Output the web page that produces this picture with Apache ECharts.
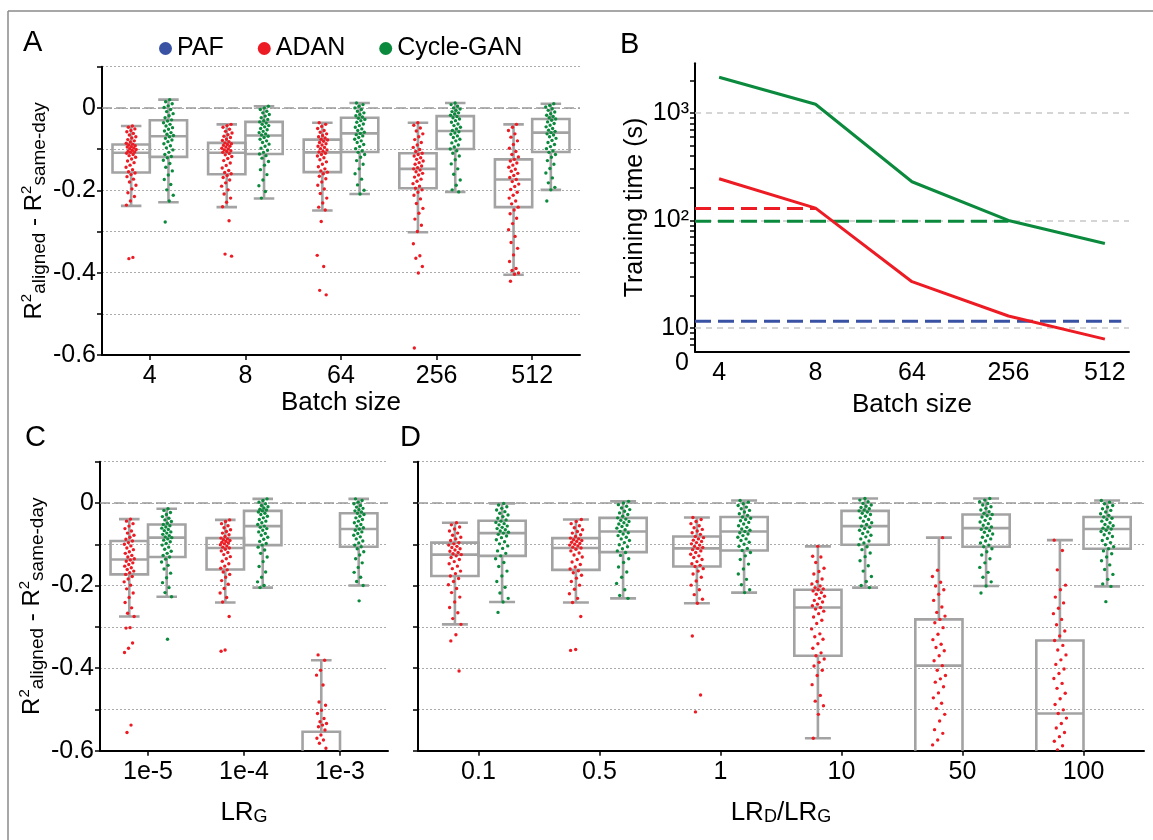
<!DOCTYPE html>
<html><head><meta charset="utf-8">
<script src="https://cdn.jsdelivr.net/npm/echarts@6/dist/echarts.min.js"></script>
<style>html,body{margin:0;padding:0;background:#fff}#c{width:1153px;height:840px}</style>
</head><body><div id="c"></div>
<script>
// ---------------- DATA ----------------
// Panel A: batch size
const batchCats = ['4', '8', '64', '256', '512'];
// box stats: [min, Q1, median, Q3, max]
const batchAdanBox = [
  [-0.238, -0.157, -0.109, -0.089, -0.044],
  [-0.241, -0.161, -0.109, -0.085, -0.040],
  [-0.249, -0.156, -0.108, -0.077, -0.036],
  [-0.302, -0.195, -0.148, -0.110, -0.036],
  [-0.405, -0.241, -0.174, -0.125, -0.040]
];
const batchCycleBox = [
  [-0.229, -0.119, -0.069, -0.030, 0.020],
  [-0.220, -0.112, -0.067, -0.034, 0.004],
  [-0.209, -0.107, -0.062, -0.024, 0.012],
  [-0.204, -0.100, -0.056, -0.020, 0.012],
  [-0.199, -0.107, -0.060, -0.027, 0.010]
];
const batchAdanDots = [
  [-.044,-.047,-.051,-.055,-.058,-.062,-.066,-.070,-.073,-.077,-.080,-.083,-.086,-.088,-.090,-.092,-.094,-.095,-.097,-.099,-.101,-.103,-.105,-.107,-.108,-.110,-.113,-.116,-.120,-.124,-.129,-.133,-.139,-.144,-.150,-.155,-.158,-.162,-.167,-.173,-.180,-.188,-.197,-.206,-.215,-.226,-.236,-.363,-.366],
  [-.040,-.043,-.047,-.052,-.057,-.061,-.065,-.069,-.072,-.076,-.079,-.082,-.085,-.087,-.089,-.091,-.093,-.095,-.098,-.100,-.102,-.104,-.106,-.108,-.111,-.114,-.118,-.123,-.128,-.134,-.140,-.146,-.152,-.157,-.160,-.164,-.169,-.175,-.182,-.190,-.199,-.209,-.219,-.229,-.240,-.274,-.355,-.360],
  [-.036,-.040,-.045,-.050,-.055,-.059,-.063,-.067,-.070,-.073,-.076,-.078,-.081,-.084,-.087,-.090,-.093,-.096,-.099,-.102,-.105,-.107,-.110,-.113,-.117,-.121,-.126,-.131,-.137,-.143,-.148,-.153,-.156,-.160,-.166,-.172,-.180,-.188,-.197,-.208,-.219,-.231,-.241,-.248,-.276,-.358,-.385,-.443,-.454],
  [-.036,-.042,-.049,-.056,-.063,-.070,-.077,-.084,-.090,-.096,-.101,-.106,-.110,-.113,-.117,-.121,-.125,-.129,-.133,-.137,-.141,-.145,-.148,-.151,-.155,-.159,-.163,-.168,-.173,-.178,-.184,-.190,-.195,-.199,-.205,-.212,-.221,-.232,-.244,-.256,-.270,-.285,-.300,-.330,-.359,-.365,-.385,-.401,-.583],
  [-.040,-.047,-.055,-.063,-.071,-.080,-.089,-.098,-.106,-.113,-.119,-.125,-.129,-.134,-.139,-.144,-.149,-.154,-.159,-.164,-.169,-.174,-.179,-.185,-.191,-.198,-.205,-.212,-.219,-.226,-.233,-.241,-.248,-.257,-.268,-.281,-.296,-.312,-.327,-.341,-.357,-.373,-.390,-.395,-.401,-.404,-.421]
];
const batchCycleDots = [
  [.020,.015,.010,.005,.001,-.004,-.009,-.014,-.019,-.024,-.029,-.032,-.036,-.040,-.044,-.048,-.052,-.056,-.060,-.064,-.067,-.070,-.074,-.078,-.082,-.087,-.092,-.097,-.102,-.108,-.113,-.118,-.121,-.127,-.135,-.144,-.153,-.163,-.174,-.186,-.199,-.212,-.226,-.277],
  [.004,.000,-.004,-.008,-.012,-.016,-.020,-.024,-.028,-.031,-.034,-.037,-.040,-.043,-.046,-.050,-.053,-.057,-.060,-.063,-.066,-.069,-.072,-.076,-.080,-.084,-.088,-.093,-.098,-.103,-.108,-.112,-.116,-.122,-.130,-.139,-.150,-.162,-.175,-.189,-.203,-.219],
  [.012,.008,.004,.000,-.004,-.008,-.012,-.016,-.019,-.022,-.025,-.028,-.031,-.035,-.039,-.043,-.047,-.051,-.055,-.059,-.062,-.065,-.068,-.072,-.076,-.080,-.084,-.089,-.094,-.099,-.104,-.108,-.113,-.120,-.128,-.137,-.148,-.160,-.173,-.187,-.200,-.209],
  [.012,.008,.004,.000,-.003,-.006,-.009,-.012,-.015,-.018,-.021,-.024,-.027,-.031,-.035,-.039,-.043,-.047,-.051,-.055,-.058,-.061,-.064,-.068,-.072,-.076,-.080,-.085,-.090,-.095,-.100,-.104,-.110,-.117,-.126,-.136,-.148,-.161,-.175,-.188,-.199,-.204],
  [.010,.006,.002,-.002,-.006,-.010,-.014,-.018,-.021,-.024,-.027,-.030,-.034,-.038,-.042,-.046,-.050,-.054,-.057,-.060,-.063,-.066,-.070,-.074,-.079,-.084,-.089,-.094,-.099,-.104,-.108,-.113,-.120,-.128,-.137,-.147,-.158,-.170,-.182,-.193,-.199,-.226]
];

// Panel B: training time (s)
const timeCats = ['4', '8', '64', '256', '512'];
const adanTime = [244, 130, 26.9, 12.9, 7.85];
const cycleTime = [2150, 1205, 229, 100, 61];
const pafBaseline = 11.5;   // dashed reference levels
const adanBaseline = 129;
const cycleBaseline = 98;
const pafBaselineEnd = 4.17;  // category position where each dashed line stops
const adanBaselineEnd = 1;
const cycleBaselineEnd = 3;
const timeLabelValues = [6, 10, 100, 1000];
const timeLabelTexts = ['0', '10', '10²', '10³'];
const timeTickValues = [7, 8, 9, 10, 20, 30, 40, 50, 60, 70, 80, 90, 100, 200, 300, 400, 500, 600, 700, 800, 900, 1000, 2000];

// Panel C: LR_G
const lrgCats = ['1e-5', '1e-4', '1e-3'];
const lrgAdanBox = [
  [-0.275, -0.173, -0.137, -0.092, -0.039],
  [-0.241, -0.161, -0.109, -0.085, -0.041],
  [-0.780, -0.680, -0.630, -0.554, -0.381]
];
const lrgCycleBox = [
  [-0.227, -0.131, -0.084, -0.052, -0.014],
  [-0.205, -0.102, -0.056, -0.019, 0.010],
  [-0.200, -0.106, -0.063, -0.025, 0.010]
];
const lrgAdanDots = [
  [-.039,-.044,-.050,-.056,-.062,-.068,-.073,-.078,-.083,-.088,-.092,-.096,-.100,-.104,-.109,-.113,-.118,-.122,-.127,-.131,-.135,-.138,-.141,-.145,-.149,-.153,-.157,-.161,-.165,-.169,-.173,-.178,-.184,-.191,-.199,-.208,-.218,-.229,-.241,-.254,-.267,-.275,-.302,-.303,-.339,-.352,-.362,-.538,-.556],
  [-.041,-.045,-.050,-.055,-.060,-.065,-.069,-.073,-.077,-.081,-.085,-.087,-.089,-.091,-.093,-.095,-.097,-.099,-.101,-.104,-.107,-.109,-.112,-.116,-.120,-.125,-.130,-.135,-.141,-.147,-.153,-.158,-.162,-.167,-.173,-.180,-.188,-.197,-.207,-.218,-.229,-.240,-.275,-.356,-.359],
  [-.368,-.381,-.405,-.417,-.441,-.482,-.490,-.502,-.510,-.522,-.530,-.534,-.538,-.542,-.550,-.562,-.570,-.574,-.582,-.594,-.612,-.634,-.655,-.684,-.721]
];
const lrgCycleDots = [
  [-.014,-.018,-.023,-.028,-.033,-.037,-.041,-.045,-.049,-.052,-.055,-.058,-.061,-.064,-.067,-.070,-.073,-.076,-.079,-.082,-.084,-.087,-.090,-.094,-.098,-.102,-.107,-.112,-.117,-.122,-.127,-.131,-.136,-.143,-.151,-.160,-.170,-.181,-.193,-.205,-.217,-.227,-.330],
  [.010,.006,.002,-.002,-.006,-.009,-.012,-.015,-.017,-.019,-.022,-.025,-.028,-.032,-.036,-.040,-.044,-.048,-.052,-.056,-.059,-.062,-.066,-.070,-.074,-.078,-.083,-.088,-.093,-.098,-.102,-.107,-.114,-.122,-.131,-.142,-.154,-.167,-.180,-.191,-.200,-.205],
  [.010,.006,.002,-.002,-.006,-.010,-.013,-.016,-.019,-.022,-.025,-.028,-.032,-.036,-.040,-.044,-.048,-.052,-.056,-.060,-.063,-.066,-.070,-.074,-.078,-.082,-.087,-.092,-.097,-.102,-.106,-.111,-.118,-.126,-.135,-.145,-.156,-.168,-.180,-.190,-.200,-.237]
];

// Panel D: LR_D / LR_G
const ratioCats = ['0.1', '0.5', '1', '10', '50', '100'];
const ratioAdanBox = [
  [-0.294, -0.177, -0.125, -0.096, -0.048],
  [-0.241, -0.162, -0.109, -0.085, -0.040],
  [-0.243, -0.154, -0.110, -0.081, -0.035],
  [-0.570, -0.370, -0.253, -0.210, -0.105],
  [-0.750, -0.640, -0.394, -0.282, -0.084],
  [-0.800, -0.660, -0.510, -0.333, -0.090]
];
const ratioCycleBox = [
  [-0.240, -0.128, -0.073, -0.043, -0.001],
  [-0.231, -0.119, -0.069, -0.036, 0.004],
  [-0.217, -0.115, -0.069, -0.034, 0.006],
  [-0.205, -0.101, -0.056, -0.019, 0.011],
  [-0.201, -0.106, -0.061, -0.028, 0.011],
  [-0.202, -0.111, -0.063, -0.034, 0.006]
];
const ratioAdanDots = [
  [-.048,-.053,-.058,-.063,-.068,-.073,-.078,-.083,-.087,-.091,-.096,-.099,-.102,-.105,-.108,-.111,-.114,-.117,-.120,-.123,-.125,-.128,-.132,-.137,-.142,-.147,-.153,-.159,-.165,-.171,-.177,-.183,-.190,-.198,-.207,-.217,-.228,-.240,-.253,-.266,-.280,-.294,-.319,-.334,-.407],
  [-.040,-.045,-.050,-.055,-.060,-.065,-.069,-.073,-.077,-.081,-.085,-.087,-.089,-.091,-.093,-.095,-.098,-.100,-.102,-.104,-.107,-.109,-.112,-.116,-.121,-.126,-.131,-.137,-.143,-.149,-.155,-.160,-.164,-.169,-.175,-.182,-.190,-.199,-.209,-.220,-.231,-.241,-.275,-.355,-.357],
  [-.035,-.040,-.045,-.050,-.055,-.060,-.064,-.068,-.072,-.076,-.081,-.084,-.087,-.090,-.093,-.096,-.099,-.102,-.105,-.108,-.110,-.113,-.116,-.120,-.124,-.128,-.132,-.137,-.142,-.147,-.151,-.154,-.159,-.165,-.172,-.180,-.189,-.199,-.210,-.222,-.233,-.243,-.322,-.465,-.506],
  [-.105,-.129,-.131,-.144,-.158,-.166,-.172,-.184,-.190,-.196,-.201,-.205,-.208,-.210,-.213,-.217,-.221,-.226,-.231,-.236,-.240,-.245,-.249,-.253,-.257,-.262,-.268,-.276,-.284,-.292,-.305,-.317,-.324,-.330,-.341,-.352,-.363,-.370,-.378,-.386,-.395,-.405,-.418,-.440,-.466,-.480,-.491,-.512,-.570],
  [-.084,-.163,-.178,-.192,-.201,-.210,-.221,-.236,-.252,-.265,-.274,-.282,-.290,-.302,-.318,-.331,-.342,-.350,-.358,-.370,-.382,-.394,-.405,-.418,-.426,-.434,-.445,-.460,-.472,-.485,-.498,-.512,-.528,-.549,-.558,-.574,-.586,-.620,-.660,-.700],
  [-.090,-.115,-.162,-.199,-.210,-.228,-.242,-.255,-.268,-.282,-.295,-.310,-.322,-.333,-.345,-.356,-.368,-.380,-.391,-.402,-.413,-.425,-.437,-.449,-.461,-.474,-.488,-.501,-.510,-.521,-.534,-.545,-.556,-.566,-.577,-.588,-.598,-.630,-.670,-.720]
];
const ratioCycleDots = [
  [-.001,-.005,-.009,-.013,-.017,-.021,-.025,-.029,-.033,-.037,-.041,-.044,-.047,-.050,-.053,-.056,-.059,-.062,-.065,-.068,-.071,-.073,-.076,-.080,-.084,-.089,-.094,-.099,-.104,-.110,-.116,-.122,-.128,-.135,-.144,-.154,-.165,-.177,-.190,-.204,-.218,-.231,-.240,-.265],
  [.004,.000,-.004,-.008,-.012,-.016,-.020,-.024,-.028,-.032,-.036,-.039,-.042,-.045,-.048,-.051,-.054,-.057,-.061,-.065,-.069,-.072,-.075,-.079,-.083,-.087,-.091,-.096,-.101,-.106,-.111,-.116,-.120,-.127,-.135,-.144,-.155,-.167,-.180,-.195,-.210,-.224,-.231],
  [.006,.002,-.002,-.006,-.010,-.014,-.018,-.022,-.026,-.030,-.034,-.037,-.040,-.043,-.047,-.051,-.055,-.059,-.063,-.066,-.069,-.072,-.075,-.079,-.083,-.087,-.091,-.095,-.100,-.105,-.110,-.115,-.120,-.128,-.137,-.148,-.160,-.172,-.185,-.198,-.210,-.217],
  [.011,.007,.003,-.001,-.005,-.008,-.011,-.014,-.017,-.019,-.022,-.025,-.028,-.032,-.036,-.040,-.044,-.048,-.052,-.056,-.059,-.062,-.066,-.070,-.074,-.078,-.082,-.087,-.092,-.097,-.101,-.106,-.113,-.121,-.130,-.140,-.152,-.165,-.178,-.190,-.200,-.205],
  [.011,.007,.003,-.001,-.005,-.009,-.013,-.017,-.021,-.025,-.028,-.031,-.034,-.038,-.042,-.046,-.050,-.054,-.058,-.061,-.064,-.067,-.071,-.075,-.079,-.083,-.087,-.092,-.097,-.102,-.106,-.111,-.118,-.126,-.135,-.145,-.156,-.168,-.180,-.191,-.201,-.218],
  [.006,.002,-.002,-.006,-.010,-.014,-.018,-.022,-.026,-.030,-.034,-.037,-.040,-.044,-.048,-.052,-.055,-.058,-.061,-.063,-.066,-.069,-.073,-.077,-.081,-.086,-.091,-.096,-.101,-.106,-.111,-.116,-.123,-.131,-.140,-.150,-.161,-.173,-.185,-.196,-.202,-.239]
];

// ---------------- STYLE ----------------
const FONT = '"Liberation Sans", Arial, Helvetica, sans-serif';
const RED = '#ed1c24', GREEN = '#0b8a3e', BLUE = '#3a52a3', BOXGRAY = '#a3a3a3';
const BOX_FRAC = 0.39;
const JITTER = 0.11;

function makeBoxRender(side) {
  return function (params, api) {
    const i = api.value(0);
    const band = api.size([1, 0])[0];
    const w = band * BOX_FRAC;
    const c = api.coord([i, 0])[0] + side * w / 2;
    const y = k => api.coord([i, api.value(k)])[1];
    const yMin = y(1), yQ1 = y(2), yMed = y(3), yQ3 = y(4), yMax = y(5);
    const cap = w * 0.55;
    const st = { stroke: BOXGRAY, lineWidth: 2.6, fill: null };
    return {
      type: 'group', children: [
        { type: 'line', shape: { x1: c, y1: yMax, x2: c, y2: yQ3 }, style: st },
        { type: 'line', shape: { x1: c, y1: yQ1, x2: c, y2: yMin }, style: st },
        { type: 'line', shape: { x1: c - cap / 2, y1: yMax, x2: c + cap / 2, y2: yMax }, style: st },
        { type: 'line', shape: { x1: c - cap / 2, y1: yMin, x2: c + cap / 2, y2: yMin }, style: st },
        { type: 'rect', shape: { x: c - w / 2, y: yQ3, width: w, height: yQ1 - yQ3 }, style: { stroke: BOXGRAY, lineWidth: 2.6, fill: 'none' } },
        { type: 'line', shape: { x1: c - w / 2, y1: yMed, x2: c + w / 2, y2: yMed }, style: st }
      ]
    };
  };
}
function makeDotRender(side, color) {
  return function (params, api) {
    const i = api.value(0);
    const band = api.size([1, 0])[0];
    const w = band * BOX_FRAC;
    const cx = api.coord([i, 0])[0] + side * w / 2 + api.value(2) * band * JITTER;
    const cy = api.coord([i, api.value(1)])[1];
    return { type: 'circle', shape: { cx: cx, cy: cy, r: 1.7 }, style: { fill: color } };
  };
}
function dotData(groups) {
  const out = [];
  groups.forEach((vals, g) => vals.forEach((v, k) => {
    out.push([g, v, (((k + 1) * 0.618034 + g * 0.29) % 1) - 0.5]);
  }));
  return out;
}
const zeroLine = {
  silent: true, symbol: ['none', 'none'], label: { show: false }, z: 1,
  lineStyle: { color: '#9a9a9a', type: [10, 4], width: 1.5 },
  data: [{ yAxis: 0 }]
};
function boxPanelSeries(gi, adanBox, cycleBox, adanDots, cycleDots) {
  const base = { type: 'custom', xAxisIndex: gi, yAxisIndex: gi, clip: true, silent: true };
  return [
    Object.assign({}, base, { name: 'ADAN', z: 2, itemStyle: { color: RED }, renderItem: makeBoxRender(-1), data: adanBox.map((b, i) => [i].concat(b)), markLine: zeroLine }),
    Object.assign({}, base, { name: 'Cycle-GAN', z: 2, itemStyle: { color: GREEN }, renderItem: makeBoxRender(1), data: cycleBox.map((b, i) => [i].concat(b)) }),
    Object.assign({}, base, { name: 'ADAN', z: 3, itemStyle: { color: RED }, renderItem: makeDotRender(-1, RED), data: dotData(adanDots) }),
    Object.assign({}, base, { name: 'Cycle-GAN', z: 3, itemStyle: { color: GREEN }, renderItem: makeDotRender(1, GREEN), data: dotData(cycleDots) })
  ];
}

const yNameRich = {
  r: { fontSize: 24, fontFamily: FONT, color: '#000', lineHeight: 30 },
  p: { fontSize: 15, fontFamily: FONT, color: '#000', verticalAlign: 'top', lineHeight: 30 },
  s: { fontSize: 19, fontFamily: FONT, color: '#000', verticalAlign: 'bottom', lineHeight: 30 }
};
const yNameText = '{r|R}{p|2}{s|aligned}{r| - R}{p|2}{s|same-day}';

function boxYAxis(gi, showLabels, withName) {
  return {
    type: 'value', gridIndex: gi, min: -0.6, max: 0.1, interval: 0.1,
    axisLine: { show: true, onZero: false, lineStyle: { color: '#000', width: 2 } },
    axisTick: { show: true, length: 5, lineStyle: { color: '#000', width: 1.5 } },
    axisLabel: {
      show: showLabels, fontSize: 25, fontFamily: FONT, color: '#000', margin: 6,
      formatter: v => { const k = Math.round(v * 10); return k % 2 !== 0 ? '' : (k === 0 ? '0' : (k / 10).toFixed(1)); }
    },
    splitLine: { show: true, lineStyle: { color: '#ababab', width: 1, type: [2, 2] } },
    name: withName ? yNameText : '', nameLocation: 'middle', nameGap: 44,
    nameTextStyle: { fontFamily: FONT, color: '#000', rich: yNameRich }
  };
}
function catXAxis(gi, cats, name, gap) {
  return {
    type: 'category', gridIndex: gi, data: cats, boundaryGap: true,
    axisLine: { show: true, onZero: false, lineStyle: { color: '#000', width: 2 } },
    axisTick: { show: true, alignWithLabel: true, length: 5, lineStyle: { color: '#000', width: 1.5 } },
    axisLabel: { interval: 0, fontSize: 25, fontFamily: FONT, color: '#000', margin: 9 },
    splitLine: { show: false },
    name: name, nameLocation: 'middle', nameGap: gap,
    nameTextStyle: {
      fontSize: 26, fontFamily: FONT, color: '#000',
      rich: {
        a: { fontSize: 26, fontFamily: FONT, color: '#000' },
        b: { fontSize: 18, fontFamily: FONT, color: '#000', verticalAlign: 'bottom' }
      }
    }
  };
}

const B_XMIN = -0.25, B_XMAX = 4.25;

const option = {
  backgroundColor: '#fff',
  animation: false,
  textStyle: { fontFamily: FONT },
  grid: [
    { left: 102, top: 66.7, width: 478, height: 288.3, outerBoundsMode: 'none' },
    { left: 695, top: 63.3, width: 434, height: 288.4, outerBoundsMode: 'none' },
    { left: 100, top: 461.7, width: 288, height: 289, outerBoundsMode: 'none' },
    { left: 418, top: 461.7, width: 726, height: 289, outerBoundsMode: 'none' }
  ],
  legend: {
    left: 154, top: 31, itemWidth: 13, itemHeight: 13, itemGap: 34, icon: 'circle', selectedMode: false,
    textStyle: { fontSize: 25, fontFamily: FONT, color: '#000' },
    data: [
      { name: 'PAF', itemStyle: { color: BLUE, borderWidth: 0 } },
      { name: 'ADAN', itemStyle: { color: RED, borderWidth: 0 } },
      { name: 'Cycle-GAN', itemStyle: { color: GREEN, borderWidth: 0 } }
    ]
  },
  xAxis: [
    catXAxis(0, batchCats, 'Batch size', 34),
    {
      type: 'value', gridIndex: 1, min: B_XMIN, max: B_XMAX, interval: 0.25,
      axisLine: { show: true, onZero: false, lineStyle: { color: '#000', width: 2 } },
      axisTick: { show: false },
      axisLabel: {
        fontSize: 25, fontFamily: FONT, color: '#000', margin: 9,
        formatter: v => { const r = Math.round(v); return (Math.abs(v - r) < 1e-6 && r >= 0 && r < timeCats.length) ? timeCats[r] : ''; }
      },
      splitLine: { show: false },
      name: 'Batch size', nameLocation: 'middle', nameGap: 40,
      nameTextStyle: { fontSize: 26, fontFamily: FONT, color: '#000' }
    },
    catXAxis(2, lrgCats, '{a|LR}{b|G}', 49),
    catXAxis(3, ratioCats, '{a|LR}{b|D}{a|/LR}{b|G}', 49)
  ],
  yAxis: [
    boxYAxis(0, true, true),
    {
      type: 'log', gridIndex: 1, logBase: 10, min: 6, max: 2900,
      axisLine: { show: true, onZero: false, lineStyle: { color: '#000', width: 2 } },
      axisTick: { show: true, length: 5, customValues: timeTickValues, lineStyle: { color: '#000', width: 1.5 } },
      axisLabel: {
        customValues: timeLabelValues, fontSize: 25, fontFamily: FONT, color: '#000', margin: 6,
        formatter: v => {
          let best = 0;
          timeLabelValues.forEach((t, i) => { if (Math.abs(Math.log10(t) - Math.log10(v)) < Math.abs(Math.log10(timeLabelValues[best]) - Math.log10(v))) best = i; });
          return best === 0 ? '{z|' + timeLabelTexts[0] + '}' : timeLabelTexts[best];
        },
        rich: { z: { fontSize: 25, fontFamily: FONT, color: '#000', padding: [22, 0, 0, 0] } }
      },
      splitLine: { show: false },
      name: 'Training time (s)', nameLocation: 'middle', nameGap: 47,
      nameTextStyle: { fontSize: 25, fontFamily: FONT, color: '#000' }
    },
    boxYAxis(2, true, true),
    boxYAxis(3, false, false)
  ],
  series: [
    {
      type: 'line', name: 'PAF', xAxisIndex: 1, yAxisIndex: 1, z: 2, showSymbol: false, silent: true,
      itemStyle: { color: BLUE }, lineStyle: { color: BLUE, width: 3, type: [16, 7] },
      data: [[B_XMIN, pafBaseline], [pafBaselineEnd, pafBaseline]],
      markLine: {
        silent: true, symbol: ['none', 'none'], label: { show: false }, z: 1,
        lineStyle: { color: '#c8c8c8', type: [6, 5], width: 1.5 },
        data: [{ yAxis: 10 }, { yAxis: 100 }, { yAxis: 1000 }]
      }
    },
    {
      type: 'line', name: 'ADAN', xAxisIndex: 1, yAxisIndex: 1, z: 3, showSymbol: false, silent: true,
      itemStyle: { color: RED }, lineStyle: { color: RED, width: 3 },
      data: adanTime.map((v, i) => [i, v])
    },
    {
      type: 'line', name: 'Cycle-GAN', xAxisIndex: 1, yAxisIndex: 1, z: 3, showSymbol: false, silent: true,
      itemStyle: { color: GREEN }, lineStyle: { color: GREEN, width: 3 },
      data: cycleTime.map((v, i) => [i, v])
    },
    {
      type: 'line', name: 'ADAN', xAxisIndex: 1, yAxisIndex: 1, z: 2, showSymbol: false, silent: true,
      itemStyle: { color: RED }, lineStyle: { color: RED, width: 3, type: [16, 7] },
      data: [[B_XMIN, adanBaseline], [adanBaselineEnd, adanBaseline]]
    },
    {
      type: 'line', name: 'Cycle-GAN', xAxisIndex: 1, yAxisIndex: 1, z: 2, showSymbol: false, silent: true,
      itemStyle: { color: GREEN }, lineStyle: { color: GREEN, width: 3, type: [16, 7] },
      data: [[B_XMIN, cycleBaseline], [cycleBaselineEnd, cycleBaseline]]
    }
  ].concat(
    boxPanelSeries(0, batchAdanBox, batchCycleBox, batchAdanDots, batchCycleDots),
    boxPanelSeries(2, lrgAdanBox, lrgCycleBox, lrgAdanDots, lrgCycleDots),
    boxPanelSeries(3, ratioAdanBox, ratioCycleBox, ratioAdanDots, ratioCycleDots)
  ),
  graphic: [
    { type: 'line', shape: { x1: 8, y1: 11, x2: 1153, y2: 11 }, style: { stroke: '#8a8a8a', lineWidth: 1.5 }, silent: true },
    { type: 'line', shape: { x1: 8, y1: 11, x2: 8, y2: 840 }, style: { stroke: '#8a8a8a', lineWidth: 1.5 }, silent: true },
    { type: 'text', x: 23, y: 43, style: { text: 'A', fontSize: 29, fontFamily: FONT, fill: '#000', textAlign: 'left', textVerticalAlign: 'middle' }, silent: true },
    { type: 'text', x: 620, y: 45, style: { text: 'B', fontSize: 29, fontFamily: FONT, fill: '#000', textAlign: 'left', textVerticalAlign: 'middle' }, silent: true },
    { type: 'text', x: 25, y: 438, style: { text: 'C', fontSize: 29, fontFamily: FONT, fill: '#000', textAlign: 'left', textVerticalAlign: 'middle' }, silent: true },
    { type: 'text', x: 400, y: 438, style: { text: 'D', fontSize: 29, fontFamily: FONT, fill: '#000', textAlign: 'left', textVerticalAlign: 'middle' }, silent: true }
  ]
};

const chart = echarts.init(document.getElementById('c'), null, { renderer: 'canvas' });
chart.setOption(option);
</script>
</body></html>
